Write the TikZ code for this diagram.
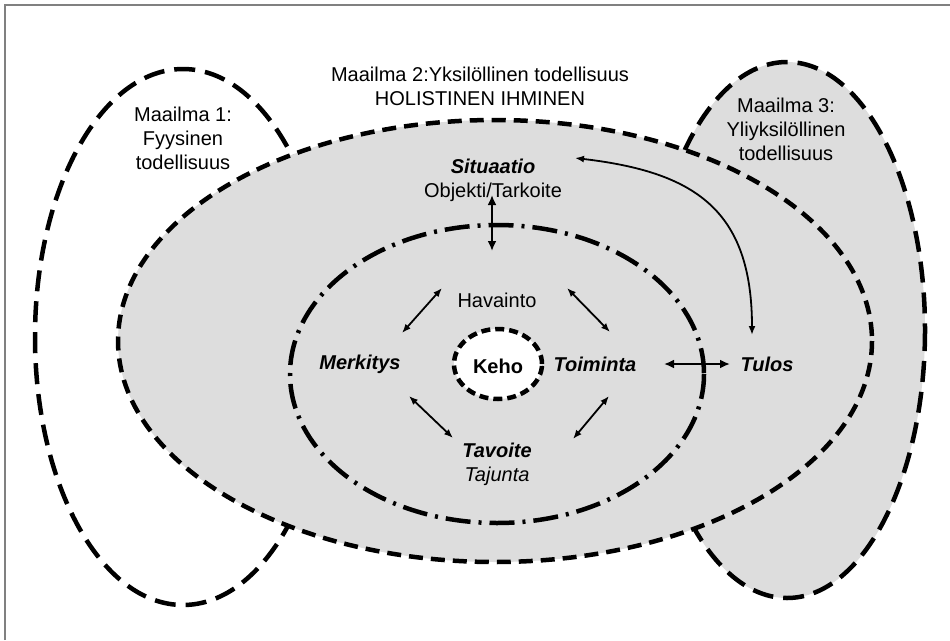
\documentclass[tikz,border=0pt]{standalone}
\usepackage{fontspec}
\setmainfont{Liberation Sans}
\usetikzlibrary{arrows.meta,shapes.geometric}
\definecolor{worldgray}{RGB}{221,221,221}
\definecolor{framegray}{RGB}{128,128,128}
\begin{document}
\begin{tikzpicture}[x=1pt,y=-1pt,
  lbl/.style={font=\fontsize{20}{24}\selectfont, align=center, inner sep=0pt},
  bi/.style={font=\fontsize{20}{24}\selectfont\bfseries\itshape, align=center, inner sep=0pt},
  longdash/.style={line width=4.5pt, dash pattern=on 21pt off 10pt},
  shortdash/.style={line width=4.5pt, dash pattern=on 14pt off 8pt},
  dashdot/.style={line width=4.5pt, dash pattern=on 25pt off 8pt on 3pt off 8pt},
  link/.style={line width=1.8pt, {Latex[length=9pt,width=7pt]}-{Latex[length=9pt,width=7pt]}},
  boldlink/.style={line width=2.8pt, {Latex[length=10pt,width=9pt]}-{Latex[length=10pt,width=9pt]}}
]
\useasboundingbox (0,0) rectangle (950,640);

% frame lines
\draw[framegray, line width=2pt] (4.5,640) -- (4.5,4.5) -- (950,4.5);

% the three worlds
\draw[longdash] (183,337) ellipse [x radius=148, y radius=268];
\filldraw[fill=worldgray, longdash] (787,330) ellipse [x radius=138, y radius=268];
\filldraw[fill=worldgray, shortdash] (495,341) ellipse [x radius=377, y radius=221];

% inner circle of experience
\draw[dashdot] (497,374) ellipse [x radius=207, y radius=149];

% body in the centre
\node[ellipse, draw, fill=white, line width=4.5pt, dash pattern=on 9pt off 5pt,
      minimum width=88pt, minimum height=70pt, inner sep=0pt] (kehoring) at (498,364) {};
\node[font=\fontsize{20}{24}\selectfont\bfseries, inner sep=0pt] (keho) at (498,366) {Keho};

% world labels
\node[lbl] (w1) at (183,138) {Maailma 1:\\Fyysinen\\todellisuus};
\node[lbl] (w2) at (480,86) {Maailma 2:Yksilöllinen todellisuus\\HOLISTINEN IHMINEN};
\node[lbl] (w3) at (786,129) {Maailma 3:\\Yliyksilöllinen\\todellisuus};

% concepts
\node[lbl] (sit) at (493,180) {\textbf{\textit{Situaatio}}\\Objekti/Tarkoite};
\node[lbl] (hav) at (497,300) {Havainto};
\node[bi] (mer) at (360,364) {Merkitys};
\node[bi] (toi) at (595,364) {Toiminta};
\node[bi] (tul) at (767,364) {Tulos};
\node[lbl] (tav) at (497,464) {\textbf{\textit{Tavoite}}\\\textit{Tajunta}};

% connector ends
\coordinate (sitS) at (492,195);
\coordinate (ringN) at (492,251);
\coordinate (havW) at (442,288);
\coordinate (merNE) at (402,333);
\coordinate (havE) at (567,288);
\coordinate (toiNW) at (610,332);
\coordinate (merSE) at (409,396);
\coordinate (tavNW) at (453,438);
\coordinate (toiSW) at (609,396);
\coordinate (tavNE) at (573,439);
\coordinate (toiE) at (664,364);
\coordinate (tulW) at (730,364);
\coordinate (sitE) at (575,158);
\coordinate (tulN) at (752,335);

% connectors
\draw[boldlink] (sitS) -- (ringN);
\draw[link] (havW) -- (merNE);
\draw[link] (havE) -- (toiNW);
\draw[link] (merSE) -- (tavNW);
\draw[link] (toiSW) -- (tavNE);
\draw[boldlink] (toiE) -- (tulW);
\draw[link] (sitE) .. controls (695,172) and (752,210) .. (tulN);
\end{tikzpicture}
\end{document}
